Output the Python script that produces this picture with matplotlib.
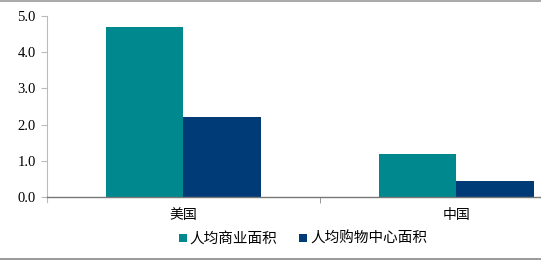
import matplotlib
matplotlib.use("Agg")
import matplotlib.pyplot as plt
from matplotlib.lines import Line2D
import numpy as np

plt.rcParams['font.family'] = ['Noto Sans CJK SC', 'DejaVu Sans']

categories = ['美国', '中国']
series_names = ['人均商业面积', '人均购物中心面积']
commercial = [4.7, 1.2]
mall = [2.2, 0.45]
yticks = [0.0, 1.0, 2.0, 3.0, 4.0, 5.0]
colors = ['#00888F', '#003B78']

W, H = 541, 260
fig = plt.figure(figsize=(W / 100, H / 100), dpi=100)
ax = fig.add_axes([47 / W, (H - 197) / H, 546 / W, 181 / H])

x = np.arange(len(categories))
bw = 0.2839
ax.bar(x - bw / 2, commercial, bw, color=colors[0], label=series_names[0])
ax.bar(x + bw / 2, mall, bw, color=colors[1], label=series_names[1])

ax.set_xlim(-0.5, 1.5)
ax.set_ylim(0, 5)
ax.set_yticks(yticks)
ax.set_yticklabels([f'{v:.1f}' for v in yticks], family='Liberation Serif', fontsize=10.5)
ax.set_xticks(x)
ax.set_xticklabels(categories, fontsize=10)
ax.tick_params(axis='x', length=0, pad=8)
ax.set_xticks([0.5], minor=True)
ax.tick_params(axis='x', which='minor', length=4, color='#888888', direction='out')
ax.tick_params(axis='y', length=4, color='#BBBBBB', pad=4)
for s in ['top', 'right']:
    ax.spines[s].set_visible(False)
ax.spines['left'].set_color('#BBBBBB')
ax.spines['left'].set_linewidth(0.8)
ax.spines['bottom'].set_color('#777777')
ax.spines['bottom'].set_linewidth(1.0)
ax.spines['left'].set_bounds(-0.15, 5)

leg = fig.legend(loc='center', bbox_to_anchor=(303 / W, 1 - 239 / H), ncol=2,
                 frameon=False, fontsize=10.5, handlelength=0.55, handleheight=0.55,
                 handletextpad=0.2, columnspacing=1.5)

fig.add_artist(Line2D([0, 1], [1 - 0.5 / H, 1 - 0.5 / H], color='#999999', lw=1.2, transform=fig.transFigure))
fig.add_artist(Line2D([0, 1], [1.5 / H, 1.5 / H], color='#888888', lw=1.2, transform=fig.transFigure))

fig.savefig('out.png', dpi=100)
